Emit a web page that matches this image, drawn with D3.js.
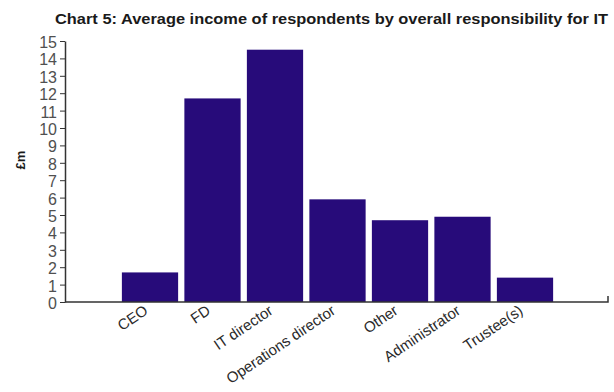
<!DOCTYPE html>
<html>
<head>
<meta charset="utf-8">
<script src="https://cdn.jsdelivr.net/npm/d3@7"></script>
<style>
  body { margin: 0; background: #fff; }
  svg { display: block; font-family: "Liberation Sans", Arial, sans-serif; }
</style>
</head>
<body>
<div id="chart"></div>
<script>
// data (values in £m)
var categories = ["CEO", "FD", "IT director", "Operations director", "Other", "Administrator", "Trustee(s)"];
var incomes = [1.7, 11.7, 14.5, 5.9, 4.7, 4.9, 1.4];
var yTicks = d3.range(0, 16);

var width = 614,
    height = 392;

var svg = d3.select("#chart")
    .append("svg")
    .attr("width", width)
    .attr("height", height);

svg.append("rect")
    .attr("width", width)
    .attr("height", height)
    .attr("fill", "#ffffff");

var x = d3.scaleBand()
    .domain(categories)
    .range([118.75, 556.25])
    .paddingInner(0.1)
    .paddingOuter(0.05);

var y = d3.scaleLinear()
    .domain([0, 15])
    .range([302, 41]);

//title
svg.append("text")
    .attr("x", 55)
    .attr("y", 24)
    .attr("textLength", 553)
    .attr("lengthAdjust", "spacingAndGlyphs")
    .style("font-size", "15px")
    .style("font-weight", "bold")
    .style("fill", "#1a1a1a")
    .text("Chart 5: Average income of respondents by overall responsibility for IT");

//bars
svg.append("g").attr("class", "bars").selectAll("rect")
    .data(categories).enter()
    .append("rect")
    .attr("x", function(d) { return x(d); })
    .attr("y", function(d, i) { return y(incomes[i]); })
    .attr("width", x.bandwidth())
    .attr("height", function(d, i) { return y(0) - y(incomes[i]); })
    .attr("fill", "#270b7a");

//y axis
var yAxis = svg.append("g")
    .attr("transform", "translate(65,0)")
    .call(d3.axisLeft(y).tickValues(yTicks).tickSize(5).tickPadding(3).tickSizeOuter(0));
yAxis.select(".domain").attr("stroke", "#333").attr("stroke-width", 1.5);
yAxis.selectAll(".tick line").attr("stroke", "#333");
yAxis.selectAll(".tick text")
    .style("font-size", "16px")
    .style("fill", "#505050")
    .attr("dy", "0.4em");

//x axis line with small end tick
svg.append("path")
    .attr("d", "M65," + y(0) + "H608V" + (y(0) - 6))
    .attr("fill", "none")
    .attr("stroke", "#333")
    .attr("stroke-width", 1.5);

//x labels
svg.append("g").attr("class", "xlabels").selectAll("text")
    .data(categories).enter()
    .append("text")
    .attr("transform", function(d) {
        return "translate(" + (x(d) + x.bandwidth() / 2 - 1) + ",313) rotate(-34)";
    })
    .attr("text-anchor", "end")
    .style("font-size", "15px")
    .style("fill", "#2a2a2a")
    .text(function(d) { return d; });

//y label
svg.append("text")
    .attr("transform", "translate(25,160) rotate(-90)")
    .attr("text-anchor", "middle")
    .style("font-size", "13px")
    .style("font-weight", "bold")
    .style("fill", "#1a1a1a")
    .text("£m");
</script>
</body>
</html>
